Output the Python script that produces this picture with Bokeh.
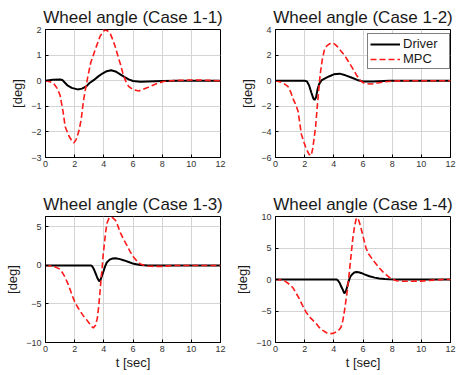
from bokeh.plotting import figure
from bokeh.layouts import gridplot
from bokeh.models import FixedTicker, Range1d, Legend, LegendItem
from bokeh.embed import file_html
from bokeh.resources import INLINE

# ---- data ----
titles = ["Wheel angle (Case 1-1)", "Wheel angle (Case 1-2)",
          "Wheel angle (Case 1-3)", "Wheel angle (Case 1-4)"]
x_ticks = [0, 2, 4, 6, 8, 10, 12]

# Case 1-1
t_drv1 = [0, 0.5, 1.0, 1.15, 1.3, 1.5, 1.8, 2.2, 2.5, 2.8, 3.0, 3.3, 3.6, 3.9, 4.2, 4.5, 4.8, 5.1, 5.4, 5.7, 6.0, 6.5, 7.0, 8.0, 9.0, 12]
v_drv1 = [0, 0.04, 0.05, 0.03, -0.06, -0.18, -0.28, -0.34, -0.31, -0.22, -0.1, 0.02, 0.16, 0.28, 0.37, 0.41, 0.36, 0.26, 0.15, 0.05, -0.01, -0.04, -0.03, -0.01, 0, 0]
t_mpc1 = [0, 0.3, 0.55, 0.8, 1.0, 1.2, 1.35, 1.6, 1.8, 1.95, 2.1, 2.3, 2.45, 2.6, 2.75, 2.9, 3.1, 3.4, 3.75, 4.05, 4.25, 4.45, 4.65, 4.8, 5.0, 5.15, 5.3, 5.5, 5.7, 6.0, 6.4, 7.0, 7.6, 8.1, 8.8, 10.2, 12]
v_mpc1 = [0, -0.04, -0.1, -0.3, -0.57, -1.2, -1.8, -2.15, -2.35, -2.43, -2.3, -1.95, -1.5, -0.8, -0.3, 0.15, 0.7, 1.2, 1.75, 1.98, 1.95, 1.83, 1.55, 1.3, 0.9, 0.62, 0.3, -0.02, -0.22, -0.35, -0.4, -0.27, -0.12, -0.03, 0.01, 0.03, 0]

# Case 1-2
t_drv2 = [0, 1, 2.0, 2.15, 2.3, 2.45, 2.6, 2.68, 2.78, 2.88, 3.0, 3.15, 3.4, 3.7, 4.0, 4.4, 4.8, 5.2, 5.6, 6.0, 6.7, 7.8, 12]
v_drv2 = [0, 0, 0, -0.05, -0.35, -0.9, -1.4, -1.5, -1.3, -0.7, -0.25, 0.02, 0.18, 0.35, 0.5, 0.55, 0.42, 0.25, 0.06, -0.06, -0.06, 0, 0]
t_mpc2 = [0, 0.5, 0.85, 1.05, 1.2, 1.4, 1.55, 1.65, 1.78, 1.95, 2.1, 2.3, 2.45, 2.55, 2.65, 2.75, 2.85, 2.95, 3.07, 3.2, 3.36, 3.5, 3.7, 3.94, 4.1, 4.28, 4.5, 4.74, 5.0, 5.3, 5.55, 5.81, 6.0, 6.25, 6.6, 7.0, 7.4, 8.06, 9.0, 12]
v_mpc2 = [0, -0.16, -0.44, -0.9, -1.4, -1.9, -2.4, -3.2, -4.2, -4.8, -5.3, -5.75, -5.85, -5.3, -4.5, -3.6, -2.2, -0.9, 0.55, 1.6, 2.45, 2.7, 2.88, 2.94, 2.82, 2.62, 2.3, 1.97, 1.5, 0.94, 0.45, 0.03, -0.15, -0.23, -0.26, -0.18, -0.1, -0.03, 0, 0]

# Case 1-3
t_drv3 = [0, 1, 2, 3.1, 3.2, 3.3, 3.45, 3.55, 3.68, 3.78, 3.88, 3.98, 4.08, 4.2, 4.4, 4.6, 4.8, 5.1, 5.4, 5.7, 6.05, 6.5, 7.0, 12]
v_drv3 = [0, 0, 0, 0, -0.1, -0.42, -1.1, -1.6, -2.05, -1.85, -1.3, -0.76, -0.15, 0.38, 0.75, 0.9, 0.93, 0.82, 0.65, 0.45, 0.21, 0.05, 0, 0]
t_mpc3 = [0, 0.4, 0.7, 0.95, 1.15, 1.3, 1.5, 1.7, 1.85, 2.0, 2.2, 2.4, 2.6, 2.8, 3.0, 3.15, 3.28, 3.42, 3.55, 3.65, 3.72, 3.8, 3.88, 3.95, 4.05, 4.12, 4.22, 4.35, 4.45, 4.6, 4.8, 4.95, 5.13, 5.35, 5.6, 5.8, 6.05, 6.3, 6.5, 6.75, 7.0, 7.5, 8.0, 8.8, 12]
v_mpc3 = [0, -0.08, -0.22, -0.45, -0.9, -1.4, -2.2, -3.2, -4.0, -4.7, -5.4, -6.0, -6.55, -7.0, -7.5, -7.9, -8.1, -7.8, -6.9, -5.3, -3.8, -2.0, -0.4, 1.3, 3.0, 4.3, 5.5, 6.1, 6.3, 6.2, 5.85, 5.2, 4.25, 3.4, 2.55, 1.8, 1.05, 0.5, 0.2, 0.02, -0.08, -0.13, -0.12, 0, 0]

# Case 1-4
t_drv4 = [0, 2, 4.2, 4.3, 4.4, 4.52, 4.62, 4.72, 4.82, 4.92, 5.02, 5.12, 5.25, 5.4, 5.55, 5.7, 5.87, 6.1, 6.44, 6.8, 7.12, 7.5, 7.8, 8.5, 12]
v_drv4 = [0, 0, 0, -0.2, -0.55, -1.2, -1.65, -2.2, -1.9, -1.1, -0.25, 0.4, 0.8, 1.1, 1.2, 1.15, 1.04, 0.82, 0.52, 0.3, 0.16, 0.08, 0.05, 0.01, 0]
t_mpc4 = [0, 0.4, 0.73, 1.0, 1.19, 1.4, 1.64, 1.85, 2.1, 2.4, 2.79, 3.0, 3.24, 3.5, 3.7, 3.95, 4.16, 4.35, 4.5, 4.62, 4.73, 4.82, 4.89, 4.98, 5.07, 5.18, 5.3, 5.42, 5.53, 5.64, 5.75, 5.87, 6.0, 6.21, 6.4, 6.67, 6.9, 7.12, 7.35, 7.58, 7.8, 8.04, 8.3, 8.6, 9.2, 10.0, 10.8, 11.5, 12]
v_mpc4 = [0, -0.08, -0.36, -0.85, -1.3, -2.1, -3.1, -4.1, -5.2, -6.1, -7.0, -7.6, -8.07, -8.45, -8.6, -8.55, -8.33, -8.0, -7.55, -6.5, -4.95, -3.5, -2.34, -0.6, 1.3, 3.8, 6.5, 8.4, 9.6, 9.8, 9.1, 8.1, 6.9, 4.95, 4.0, 3.13, 2.45, 1.82, 1.25, 0.78, 0.35, 0, -0.2, -0.27, -0.27, -0.26, -0.1, 0, 0]

y_ranges = [(-3, 2), (-6, 4), (-10, 6.35), (-10, 10)]
y_ticks = [[-3, -2, -1, 0, 1, 2], [-6, -4, -2, 0, 2, 4], [-10, -5, 0, 5], [-10, -5, 0, 5, 10]]
drivers = [(t_drv1, v_drv1), (t_drv2, v_drv2), (t_drv3, v_drv3), (t_drv4, v_drv4)]
mpcs = [(t_mpc1, v_mpc1), (t_mpc2, v_mpc2), (t_mpc3, v_mpc3), (t_mpc4, v_mpc4)]

FONT = "Liberation Sans"

def make(i):
    left = (i % 2 == 0)
    top = (i < 2)
    w = 229 if left else 230
    h = 190 if top else 182
    p = figure(width=w, height=h, output_backend="svg", toolbar_location=None,
               x_range=Range1d(0, 12), y_range=Range1d(*y_ranges[i]),
               min_border_left=45 if left else 46, min_border_right=9,
               min_border_top=29 if top else 25, min_border_bottom=33 if top else 28)
    p.title.text = titles[i]
    p.title.text_font = FONT
    p.title.text_font_size = "17px"
    p.title.text_font_style = "normal"
    p.title.align = "center"
    p.title.text_color = "#1a1a1a"
    p.title.standoff = 5
    p.title.offset = 0
    p.outline_line_color = "black"
    p.outline_line_width = 1
    p.background_fill_color = "white"
    p.border_fill_color = "white"
    for ax in (p.xaxis[0], p.yaxis[0]):
        ax.major_label_text_font = FONT
        ax.major_label_text_font_size = "9px"
        ax.major_label_text_color = "#333333"
        ax.axis_line_color = "black"
        ax.major_tick_in = 3
        ax.major_tick_out = 0
        ax.major_tick_line_color = "black"
        ax.minor_tick_line_color = None
        ax.axis_label_text_font = FONT
        ax.axis_label_text_font_size = "13px"
        ax.axis_label_text_font_style = "normal"
        ax.axis_label_text_color = "#1a1a1a"
    p.xaxis.ticker = FixedTicker(ticks=x_ticks)
    p.yaxis.ticker = FixedTicker(ticks=y_ticks[i])
    p.xaxis.major_label_standoff = 3
    p.yaxis.major_label_standoff = 4
    p.yaxis.axis_label = "[deg]"
    p.yaxis.axis_label_standoff = 3
    if not top:
        p.xaxis.axis_label = "t [sec]"
        p.xaxis.axis_label_standoff = 0
    p.grid.grid_line_color = "#d4d4d4"
    p.grid.grid_line_width = 1
    td, vd = drivers[i]
    tm, vm = mpcs[i]
    r1 = p.line(td, vd, line_color="black", line_width=2)
    r2 = p.line(tm, vm, line_color="#ff1a1a", line_width=1.6, line_dash="6 3")
    if i == 1:
        leg = Legend(items=[LegendItem(label="Driver", renderers=[r1]),
                            LegendItem(label="MPC", renderers=[r2])],
                     location=(92, 88))
        leg.label_text_font = FONT
        leg.label_text_font_size = "13px"
        leg.label_text_color = "#1a1a1a"
        leg.border_line_color = "black"
        leg.border_line_width = 1
        leg.background_fill_color = "white"
        leg.background_fill_alpha = 1
        leg.glyph_width = 30
        leg.glyph_height = 14
        leg.label_standoff = 3
        leg.label_width = 44
        leg.spacing = 0
        leg.padding = 2
        leg.margin = 0
        leg.label_height = 14
        p.add_layout(leg)
    return p

figs = [make(i) for i in range(4)]
grid = gridplot([[figs[0], figs[1]], [figs[2], figs[3]]], toolbar_location=None)
open("out.html", "w").write(file_html(grid, INLINE))
